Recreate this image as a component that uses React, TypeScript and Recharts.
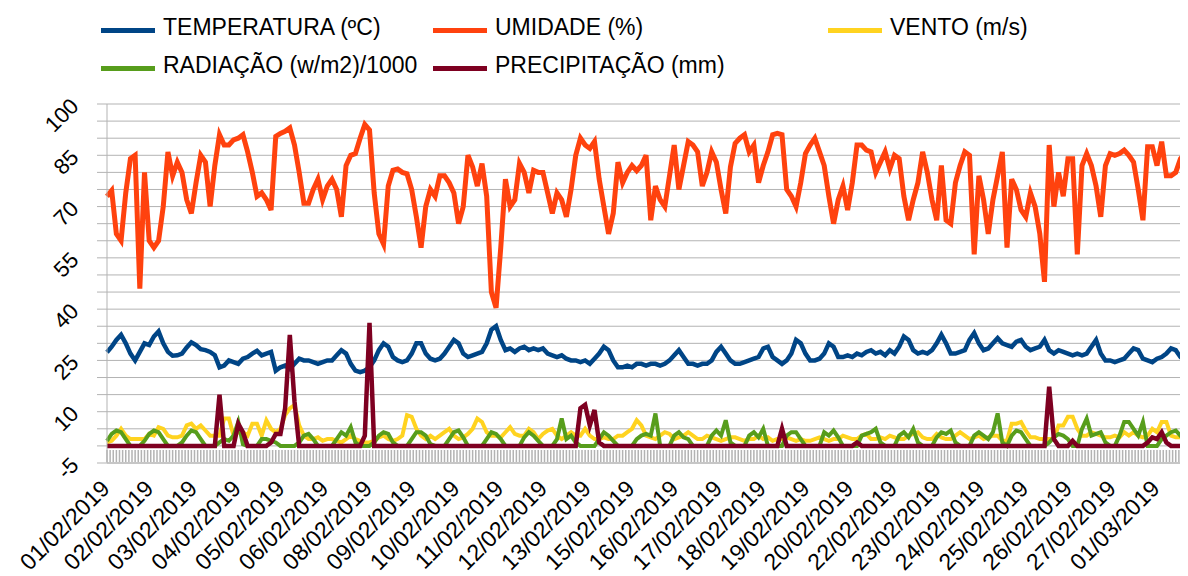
import { CartesianGrid, Legend, Line, LineChart, XAxis, YAxis } from 'recharts';

const FONT = '"Liberation Sans", Arial, sans-serif';
const GRID = '#b3b3b3';

// hours since 01/02/2019 00:00, one reading every 3 hours
const hours = Array.from({ length: 232 }, (_, i) => i * 3);

// category labels shown on the axis (every 28 hours)
const labelHours = [0, 28, 56, 84, 112, 140, 168, 196, 224, 252, 280, 308, 336, 364, 392, 420, 448, 476, 504, 532, 560, 588, 616, 644, 672];
const dateLabels = [
  '01/02/2019', '02/02/2019', '03/02/2019', '04/02/2019', '05/02/2019', '06/02/2019', '08/02/2019',
  '09/02/2019', '10/02/2019', '11/02/2019', '12/02/2019', '13/02/2019', '15/02/2019', '16/02/2019',
  '17/02/2019', '18/02/2019', '19/02/2019', '20/02/2019', '22/02/2019', '23/02/2019', '24/02/2019',
  '25/02/2019', '26/02/2019', '27/02/2019', '01/03/2019',
];
const minorTicks = Array.from({ length: 348 }, (_, i) => i * 2);

const yTicks = [-5, 0, 5, 10, 15, 20, 25, 30, 35, 40, 45, 50, 55, 60, 65, 70, 75, 80, 85, 90, 95, 100];
const yLabels = [-5, 10, 25, 40, 55, 70, 85, 100];

const seriesOrder = ['temperatura', 'umidade', 'vento', 'radiacao', 'precipitacao'];

// one row per day, 8 readings each
const temperatura = [
  27.4, 29, 31, 32.5, 30, 27, 25, 27.5,
  30, 29.5, 32, 33.5, 30, 27.5, 26.4, 26.5,
  27, 28.8, 30.3, 29.5, 28.3, 28, 27.5, 26.5,
  23, 23.5, 25, 24.5, 24, 25.5, 26, 27,
  27.8, 26.5, 27, 27.5, 22, 23, 23.5, 22.5,
  24, 25.5, 25, 25, 24.5, 24, 24.5, 25,
  25, 26.5, 28, 27, 24, 22, 21.6, 22,
  23, 25, 28, 30, 29, 26, 25, 24.5,
  25, 27, 30, 30, 27, 25.5, 25, 25.5,
  27, 29, 31, 30, 27, 26, 26.5, 27,
  27.5, 30, 34, 35, 31, 28, 28.5, 27.5,
  28.5, 29, 28, 28.5, 28, 28.5, 27, 26.5,
  26, 26.5, 25.5, 25, 25, 24.5, 25, 24,
  25.5, 27, 29, 28, 25, 23, 23, 23.5,
  23, 24, 24, 23.5, 24, 24, 23.5, 24,
  25, 26.5, 28, 26, 24, 24, 23.5, 24,
  24, 25, 27.5, 29, 27, 25, 24, 24,
  24.5, 25, 25.5, 26, 28.5, 29, 26, 25,
  24, 25, 27, 31, 30, 27, 25, 25,
  25.5, 27, 30, 29, 26, 26, 26.5, 26,
  27, 26.5, 27.5, 28, 27, 27.5, 26.5, 28,
  27, 29, 32, 31, 28, 27, 27.5, 27,
  28, 30, 32.5, 30, 27, 27, 27.5, 28,
  31, 33, 30, 28, 28.5, 30, 31.5, 30,
  29.5, 29, 30.5, 31, 29, 28, 28.5, 29,
  31, 28, 27, 28, 27.5, 27, 26.5, 27,
  26.5, 27, 29, 31, 27, 25, 25, 24.5,
  25, 25.5, 27, 28.5, 28, 25.5, 25, 24.5,
  25.5, 26, 27, 28.5, 28, 26, 25, 25,
];

const umidade = [
  73, 74.7, 62, 60, 74, 84, 85, 46,
  80, 60, 58, 60, 70, 86, 79, 83,
  80, 72, 68, 77, 85, 83, 70, 82,
  91, 88, 88, 89.5, 90, 91, 86, 80,
  73, 74, 72, 69, 90.5, 91.4, 92, 93,
  88, 80, 71, 71, 75, 78, 72, 76,
  78, 75, 67, 82, 85, 85.5, 90, 94,
  92.4, 74, 62, 59, 76, 80.6, 81, 80,
  79.6, 75, 67, 58, 70, 75, 73, 79,
  79, 77, 74, 65, 70, 85, 81.6, 76,
  82.6, 73, 45, 40.4, 58, 78, 70, 72,
  82.6, 80, 74, 80.6, 80, 80, 74, 68,
  74, 72, 67, 75, 85, 90, 88, 87,
  89, 78, 70, 62, 68, 83, 77, 80,
  82, 80.5, 82, 85, 66, 76, 72, 70,
  79, 88, 75, 82, 89, 88, 86, 76,
  80, 86, 83, 75, 68, 81.6, 88.5, 90,
  91, 86, 88, 77, 82, 86, 91, 91.4,
  91, 75, 73, 70, 77, 85.5, 88, 90,
  86, 82, 73, 65, 72, 76, 69, 77,
  88, 88, 86.5, 86, 80, 83, 86, 81,
  85, 84, 73, 66, 72, 77, 86, 80,
  72, 66, 82, 66, 65, 77, 82, 86,
  85, 56, 79, 72, 62, 72, 79, 86,
  58, 78, 75, 69, 67, 74, 70, 62,
  48, 88, 70, 80, 73, 84, 84, 56,
  82, 85.5, 82, 76, 67, 82, 85.5, 85,
  85.5, 86.5, 85, 83, 75, 66, 87.5, 87.5,
  82, 89, 79, 79, 80, 84, 85.5, 83.5,
];

const vento = [
  1, 1.5, 3, 5, 3, 2, 2, 2,
  2, 3.5, 3, 5.5, 5, 3, 2.5, 2.5,
  3, 6, 6.5, 5, 6, 4.5, 3, 3,
  3, 8, 8, 3, 4, 4, 3, 6.5,
  6.5, 3, 7.5, 5, 4, 5, 9, 11,
  12, 6, 3, 2, 2, 2.5, 1.5, 2,
  2, 1.5, 1, 2, 3, 2, 1.5, 1,
  1, 1.5, 2.5, 3, 2, 1.5, 2, 3,
  9, 8.5, 5, 3, 2, 3, 2, 3,
  4, 5, 3, 2, 2.5, 3.5, 5, 8,
  7, 4, 3, 3, 2.5, 4, 5.5, 3.5,
  3, 3, 5, 4, 2, 3.5, 4.5, 5,
  3, 2, 3, 4, 3, 3, 5, 3,
  2, 2, 2.5, 2, 2, 3, 3, 4,
  5, 7.5, 6, 3, 2.5, 2, 3, 4,
  3.5, 2, 2.5, 3, 4, 3, 2, 2,
  3, 2.5, 2, 1.5, 2, 2.5, 2.5, 2,
  1.5, 2, 2, 3, 2, 2.5, 1.5, 2,
  2, 2.5, 2, 1.5, 2, 1.5, 1.5, 2,
  2.5, 2, 1.5, 2, 2, 3, 2.5, 2,
  2, 3, 3.5, 2, 2, 2.5, 2, 3,
  2.5, 2, 2, 3, 3.5, 4, 2.5, 2,
  2, 3.5, 2.5, 2, 2, 3, 4, 3,
  2, 2.5, 3, 2, 2.5, 3, 3, 1.5,
  1.5, 6.5, 6.5, 7, 4.5, 2.5, 2.5, 2,
  2, 2, 2, 6, 6, 8.5, 8.5, 5,
  3, 3, 4, 3.5, 3, 2.5, 2.5, 3,
  2.5, 4, 3, 4, 3, 2.5, 3, 5,
  4, 7, 7, 3, 2.5, 2.5, 2, 2,
];

const radiacao = [
  1.5, 3.5, 4.5, 4, 2, 0, 0, 0,
  1.5, 3.5, 4.5, 4, 2, 0, 0, 0,
  1, 3, 4.5, 4, 2, 0, 0, 0,
  1, 2, 1.5, 3, 7, 0.5, 0, 0,
  0, 2, 2, 1.5, 1, 0, 0, 0,
  0, 1, 3, 3.5, 2, 0, 0, 0,
  0, 2, 4, 3, 5.5, 1, 0, 0,
  0, 1, 3, 4, 3.5, 1, 0, 0,
  0, 2, 4, 4, 3, 0.5, 0, 0,
  0, 2, 4, 4.5, 2.5, 0, 0, 0,
  0, 2, 4, 3.5, 2, 0, 0, 0,
  0, 2.5, 4, 3, 1.5, 0, 0, 0,
  2, 8, 2, 3, 1, 0, 0, 0,
  0, 2, 4, 3, 1.5, 0, 0, 0,
  0, 2, 3, 3.5, 3, 9.5, 0, 0,
  0, 3, 4, 2.5, 2, 0, 0, 0,
  0, 3, 4.5, 3, 7.5, 1, 0, 0,
  0, 3, 4, 2.5, 5, 0, 0, 0,
  0, 3, 4, 4, 2, 0, 0, 0,
  0, 4, 3, 4.5, 2.5, 0, 0, 0,
  0, 3, 3.5, 4, 5, 1, 0, 0,
  0, 3, 4, 2.5, 5, 1, 0, 0,
  0, 2.5, 4, 3.5, 4.5, 1, 0, 0,
  0, 3, 4, 3, 2, 4, 9.5, 1,
  0, 3, 4.5, 4, 2, 0, 0, 0,
  0, 1, 2.5, 3.5, 3, 2, 0, 0,
  5, 8, 3, 3.5, 4, 1, 0, 0,
  3, 7, 7, 5, 3, 7, 0, 0,
  0, 2, 3, 4, 4.5, 3, 4.5, 1,
];

const precipitacao = [
  0, 0, 0, 0, 0, 0, 0, 0,
  0, 0, 0, 0, 0, 0, 0, 0,
  0, 0, 0, 0, 0, 0, 0, 0,
  15, 0, 0, 0, 6.5, 4, 0, 0,
  0, 0, 0, 1, 3.5, 3.5, 11, 32.5,
  13, 0, 0, 0, 0, 0, 0, 0,
  0, 0, 0, 0, 0, 0, 0, 3,
  36, 0, 0, 0, 0, 0, 0, 0,
  0, 0, 0, 0, 0, 0, 0, 0,
  0, 0, 0, 0, 0, 0, 0, 0,
  0, 0, 0, 0, 0, 0, 0, 0,
  0, 0, 0, 0, 0, 0, 0, 0,
  0, 0, 0, 0, 0, 11, 12, 6,
  10.5, 1, 0, 0, 0, 0, 0, 0,
  0, 0, 0, 0, 0, 0, 0, 0,
  0, 0, 0, 0, 0, 0, 0, 0,
  0, 0, 0, 0, 0, 0, 0, 0,
  0, 0, 0, 0, 0, 0, 0, 0,
  5, 0, 0, 0, 0, 0, 0, 0,
  0, 0, 0, 0, 0, 0, 0, 0,
  1, 0, 0, 0, 0, 0, 0, 0,
  0, 0, 0, 0, 0, 0, 0, 0,
  0, 0, 0, 0, 0, 0, 0, 0,
  0, 0, 0, 0, 0, 0, 0, 0,
  0, 0, 0, 0, 0, 0, 0, 0,
  0, 17.3, 2, 0, 0, 0, 1.5, 0,
  0, 0, 0, 0, 0, 0, 0, 0,
  0, 0, 0, 0, 0, 0, 1, 2.5,
  2, 4, 1, 0, 0, 0, 0, 0,
];

const rows = hours.map((h, i) => ({
  h,
  temperatura: temperatura[i],
  umidade: umidade[i],
  vento: vento[i],
  radiacao: radiacao[i],
  precipitacao: precipitacao[i],
}));

const XTick = ({ x, y, payload }: any) => {
  const idx = labelHours.indexOf(payload.value);
  return (
    <g>
      <line x1={x} y1={y - 13} x2={x} y2={y - 1} stroke={GRID} strokeWidth={1.5} />
      {idx >= 0 && (
        <text
          x={x + 4}
          y={y + 27}
          textAnchor="end"
          transform={`rotate(-45, ${x + 4}, ${y + 27})`}
          fontSize={23}
          fontFamily={FONT}
          fill="#000"
        >
          {dateLabels[idx]}
        </text>
      )}
    </g>
  );
};

const YTick = ({ x, y, payload }: any) => {
  if (!yLabels.includes(payload.value)) return <g />;
  return (
    <text
      x={x}
      y={y + 3.5}
      textAnchor="end"
      transform={`rotate(-45, ${x}, ${y + 3.5})`}
      fontSize={22}
      fontFamily={FONT}
      fill="#000"
    >
      {payload.value}
    </text>
  );
};

const LegendGrid = ({ payload }: any) => {
  const items = [...(payload || [])].sort(
    (a: any, b: any) => seriesOrder.indexOf(a.dataKey) - seriesOrder.indexOf(b.dataKey),
  );
  return (
    <div
      style={{
        display: 'grid',
        gridTemplateColumns: '332px 395px auto',
        fontFamily: FONT,
        fontSize: 23,
        color: '#000',
      }}
    >
      {items.map((p: any) => (
        <div key={p.value} style={{ display: 'flex', alignItems: 'center', height: 38 }}>
          <span
            style={{
              display: 'inline-block',
              width: 54,
              height: 5,
              background: p.color,
              marginRight: 8,
              marginTop: 6,
            }}
          />
          <span style={{ whiteSpace: 'nowrap' }}>{p.value}</span>
        </div>
      ))}
    </div>
  );
};

export default function App() {
  return (
    <div style={{ width: 1180, height: 568, overflow: 'hidden', position: 'relative' }}>
      <LineChart width={1200} height={568} data={rows} margin={{ top: 96, right: 13.5, bottom: 0, left: 0 }}>
        <CartesianGrid vertical={false} stroke={GRID} />
        <XAxis
          dataKey="h"
          type="number"
          domain={[0, 696]}
          ticks={minorTicks}
          interval={0}
          height={113}
          tickSize={0}
          tickMargin={0}
          tickLine={false}
          axisLine={{ stroke: GRID }}
          tick={<XTick />}
        />
        <YAxis
          type="number"
          domain={[-5, 100]}
          ticks={yTicks}
          interval={0}
          width={99}
          tickSize={10}
          tickMargin={17}
          tickLine={{ stroke: GRID }}
          axisLine={{ stroke: GRID }}
          tick={<YTick />}
        />
        <Legend
          layout="horizontal"
          verticalAlign="middle"
          align="center"
          wrapperStyle={{ top: 0, left: 93, width: 1087 }}
          content={<LegendGrid />}
        />
        <Line dataKey="temperatura" name="TEMPERATURA (ºC)" stroke="#004586" strokeWidth={4.5} dot={false} isAnimationActive={false} />
        <Line dataKey="umidade" name="UMIDADE (%)" stroke="#ff420e" strokeWidth={5} dot={false} isAnimationActive={false} />
        <Line dataKey="vento" name="VENTO (m/s)" stroke="#ffd320" strokeWidth={4} dot={false} isAnimationActive={false} />
        <Line dataKey="radiacao" name="RADIAÇÃO (w/m2)/1000" stroke="#579d1c" strokeWidth={4} dot={false} isAnimationActive={false} />
        <Line dataKey="precipitacao" name="PRECIPITAÇÃO (mm)" stroke="#7e0021" strokeWidth={4.5} dot={false} isAnimationActive={false} />
      </LineChart>
    </div>
  );
}
